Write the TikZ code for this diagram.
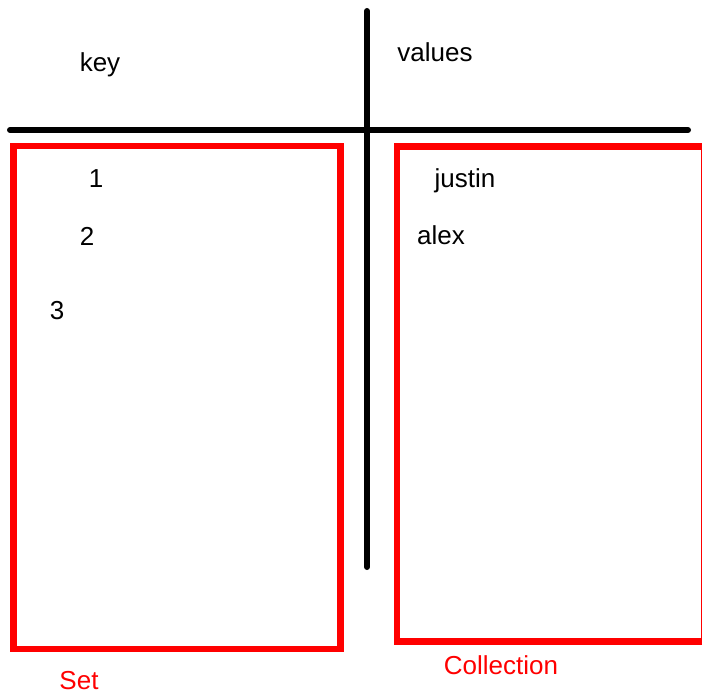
\documentclass[tikz,border=0pt]{standalone}
\usepackage{fontspec}
\setmainfont{Liberation Sans}
\begin{document}
\begin{tikzpicture}[x=1pt,y=-1pt,
  axis/.style={line width=6pt,line cap=round,black},
  box/.style={draw=red,line width=6.5pt,inner sep=0pt,outer sep=0pt,anchor=north west},
  lbl/.style={inner sep=0pt,font=\fontsize{26}{30}\selectfont},
  rlbl/.style={lbl,text=red}]
\useasboundingbox (0,0) rectangle (702,698);
\clip (0,0) rectangle (702,698);
\coordinate (hl) at (10,130);
\coordinate (hr) at (688,130);
\coordinate (vt) at (367,11);
\coordinate (vb) at (367,567);
\draw[axis] (hl) -- (hr);
\draw[axis] (vt) -- (vb);
\node[box,minimum width=327pt,minimum height=503pt] (set) at (13.5,146) {};
\node[box,minimum width=307pt,minimum height=495pt] (coll) at (397,146.5) {};
\node[lbl] (key) at (100,65) {key};
\node[lbl] (values) at (435,52) {values};
\node[lbl] (k1) at (96,179) {1};
\node[lbl] (k2) at (87,236) {2};
\node[lbl] (k3) at (57,311) {3};
\node[lbl] (v1) at (465,181) {justin};
\node[lbl] (v2) at (441,235) {alex};
\node[rlbl] (setl) at (79,681) {Set};
\node[rlbl] (colll) at (501,665) {Collection};
\end{tikzpicture}
\end{document}
